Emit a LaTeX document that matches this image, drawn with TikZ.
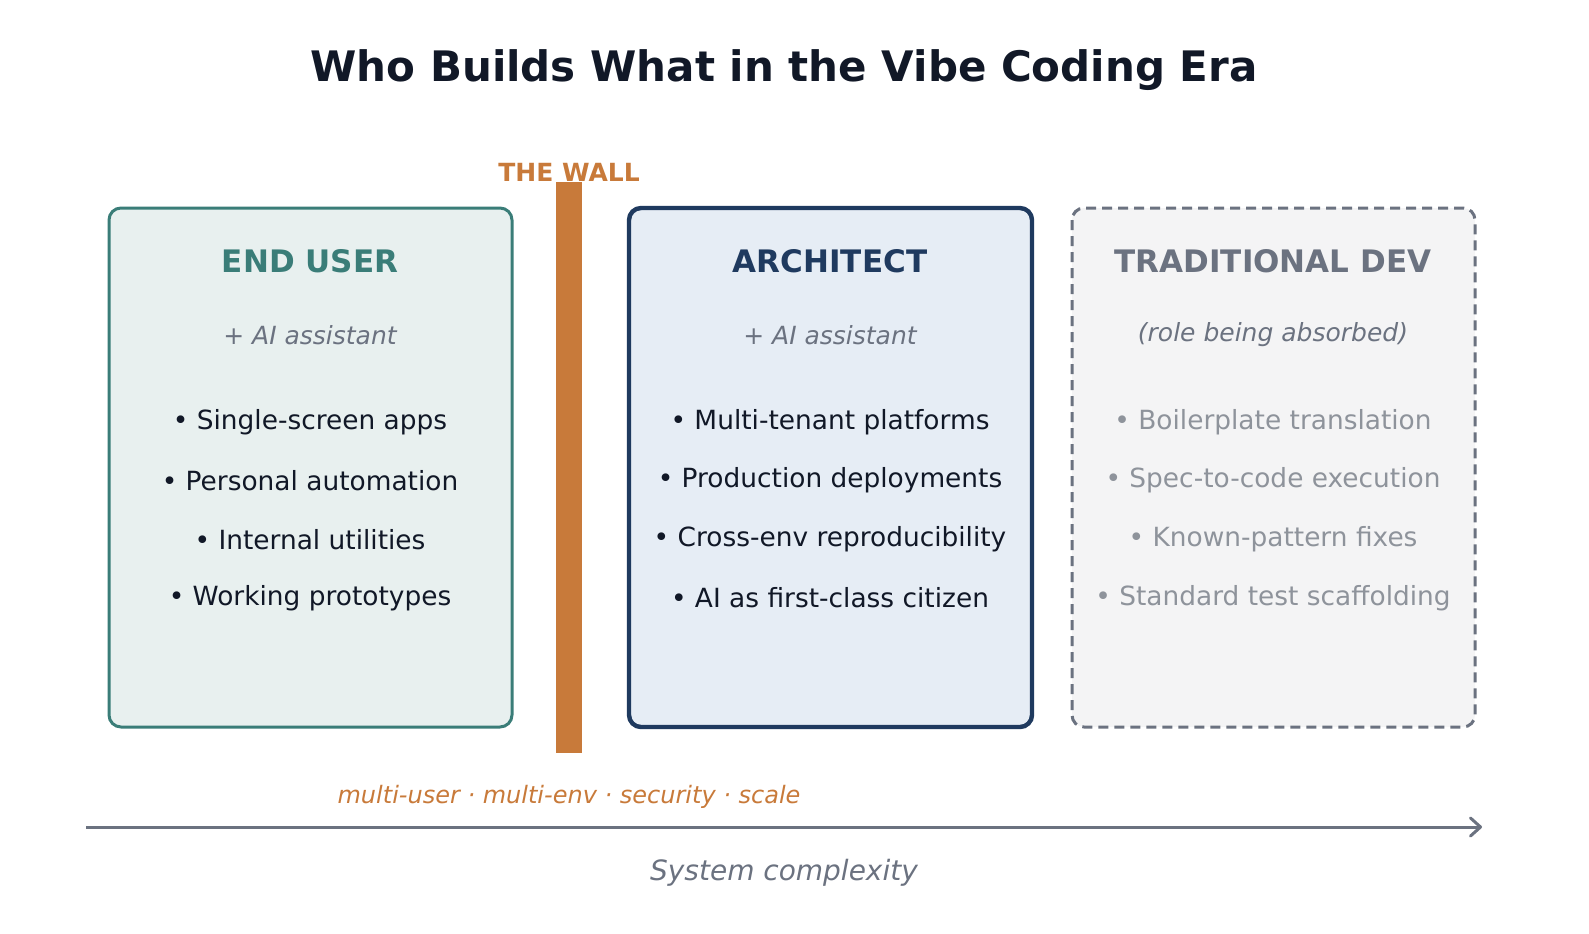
\documentclass[tikz,border=0pt]{standalone}
\usepackage{fontspec}
\setmainfont{DejaVu Sans}
\usetikzlibrary{arrows.meta}
\definecolor{teal}{HTML}{3A7D78}
\definecolor{tealfill}{HTML}{E8F0EF}
\definecolor{navy}{HTML}{1F3A5F}
\definecolor{navyfill}{HTML}{E6EDF5}
\definecolor{slate}{HTML}{6B7280}
\definecolor{slatefill}{HTML}{F4F4F5}
\definecolor{faded}{HTML}{8E939B}
\definecolor{wall}{HTML}{C87A3A}
\definecolor{ink}{HTML}{111827}
\begin{document}
\begin{tikzpicture}
[ x=0.5pt, y=-0.5pt
, panel/.style={rounded corners=6pt}
, header/.style={font=\fontsize{15.5}{18}\selectfont\bfseries}
, aside/.style={font=\fontsize{12.5}{15}\selectfont\itshape, text=slate}
, item/.style={font=\fontsize{13.2}{16}\selectfont, text=ink}
]
\node (title) at (784,70) [font=\fontsize{21}{25}\selectfont\bfseries, text=ink] {Who Builds What in the Vibe Coding Era};
% panels
\draw [panel, draw=teal, fill=tealfill, line width=1.5pt] (109,208) rectangle (512,727);
\draw [panel, draw=navy, fill=navyfill, line width=2.2pt] (629,208) rectangle (1032,727);
\draw [panel, draw=slate, fill=slatefill, line width=1.5pt, dash pattern=on 5pt off 3pt] (1072,208) rectangle (1475,727);
% wall
\fill [wall] (556,182) rectangle (582,753);
\node (wallname) at (569,172) [font=\fontsize{12.5}{15}\selectfont\bfseries, text=wall] {THE WALL};
% headers
\node (enduser) at (310,261) [header, text=teal] {END USER};
\node (architect) at (830,261) [header, text=navy] {ARCHITECT};
\node (tradition) at (1273,261) [header, text=slate] {TRADITIONAL DEV};
\node (endsub) at (310,335) [aside] {+ AI assistant};
\node (archsub) at (830,335) [aside] {+ AI assistant};
\node (tradsub) at (1273,335) [aside] {(role being absorbed)};
% bullets
\foreach \t [count=\i] in {Single-screen apps, Personal automation, Internal utilities, Working prototypes}
  \node (end\i) at (310,{422+58.7*(\i-1)}) [item] {• \t};
\foreach \t [count=\i] in {Multi-tenant platforms, Production deployments, Cross-env reproducibility, AI as first-class citizen}
  \node (arch\i) at (830,{422+58.7*(\i-1)}) [item] {• \t};
\foreach \t [count=\i] in {Boilerplate translation, Spec-to-code execution, Known-pattern fixes, Standard test scaffolding}
  \node (trad\i) at (1273,{422+58.7*(\i-1)}) [item, text=faded] {• \t};
% axis
\node (barrier) at (569,797) [aside, font=\fontsize{12}{14}\selectfont\itshape, text=wall] {multi-user · multi-env · security · scale};
\coordinate (axisstart) at (86,827);
\coordinate (axisend) at (1482,827);
\draw [slate, line width=1.5pt, -{Straight Barb[length=5pt, width=9pt, round]}] (axisstart) -- (axisend);
\node (axislabel) at (784,873) [font=\fontsize{14}{17}\selectfont\itshape, text=slate] {System complexity};
\pgfresetboundingbox
\path [use as bounding box] (0,0) rectangle (1589,933);
\end{tikzpicture}
\end{document}
